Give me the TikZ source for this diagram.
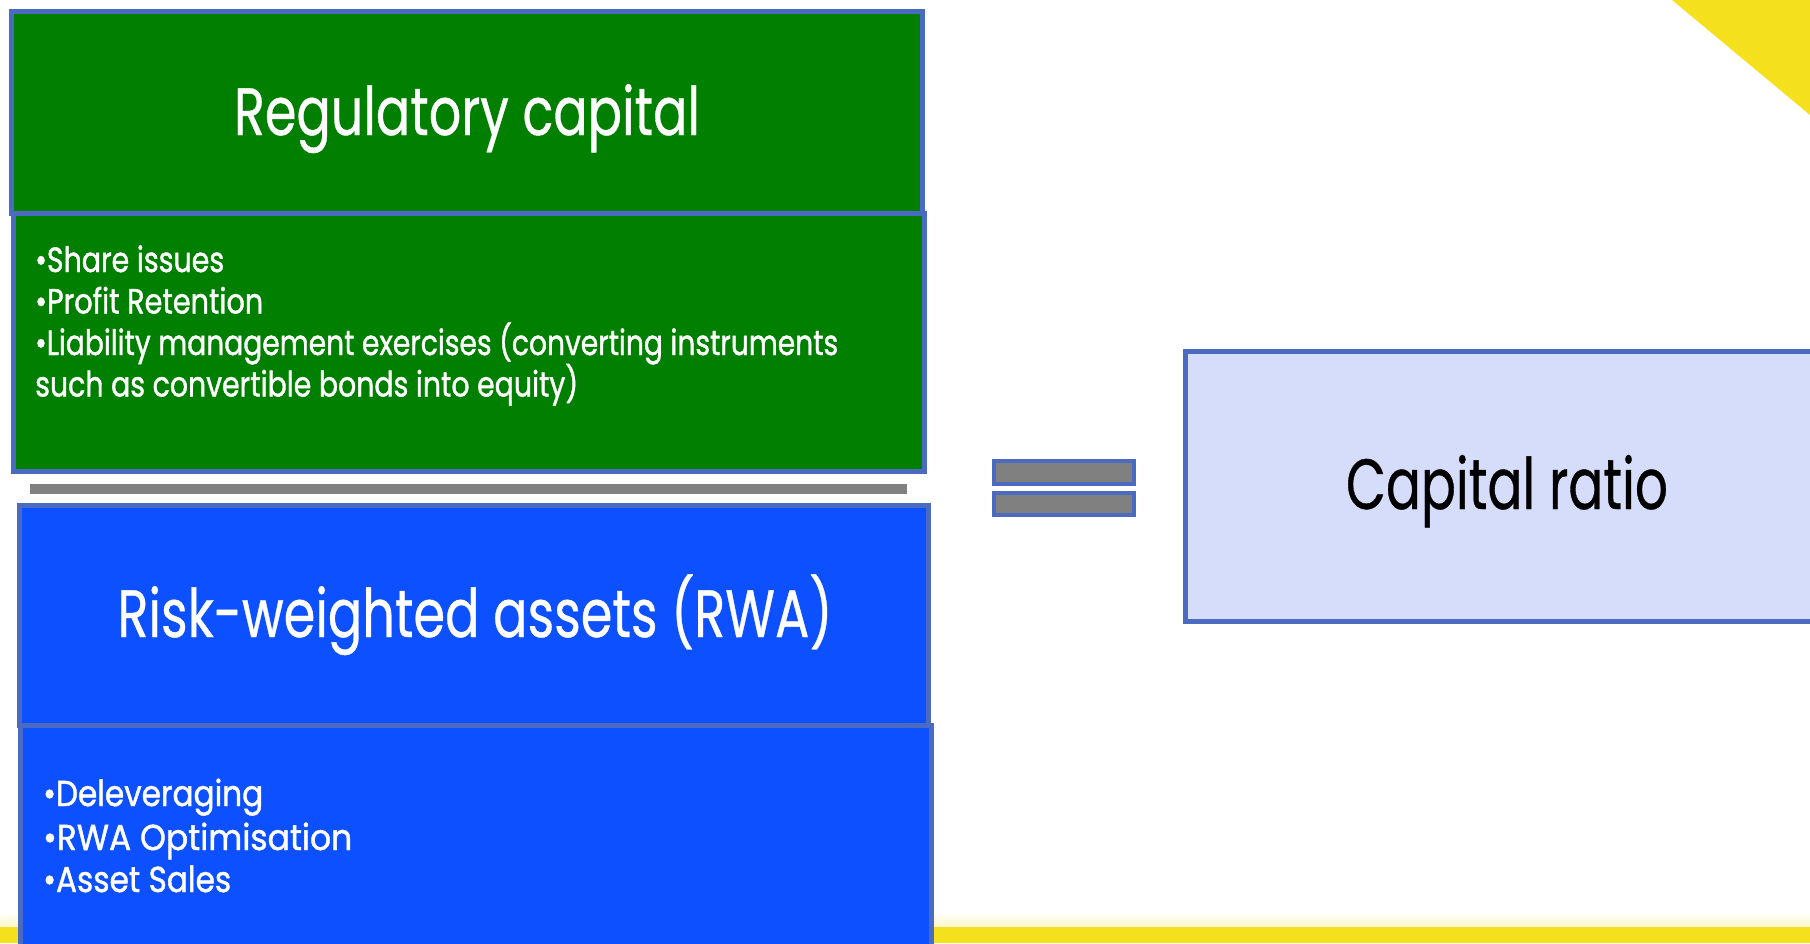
\documentclass[tikz,border=0pt]{standalone}
\usepackage{fontspec}
\setmainfont{Poppins}
\newfontfamily\titlefont{Poppins}[FakeBold=0.6]
\newfontfamily\listfont{Poppins}[FakeBold=1.3]
\usepackage{graphicx}
\definecolor{cgreen}{HTML}{007F00}
\definecolor{cblue}{HTML}{0D50FF}
\definecolor{cbord}{HTML}{4A6BC0}
\definecolor{clight}{HTML}{D5DDFB}
\definecolor{cgray}{HTML}{808080}
\definecolor{cyel}{HTML}{F5E01E}
\newcommand\fitto[2]{\resizebox{#1pt}{\height}{#2}}
\tikzset{
  panel/.style={draw=cbord, line width=5pt, inner sep=0pt, outer sep=0pt},
  eqbar/.style={draw=cbord, fill=cgray, line width=4pt, inner sep=0pt, outer sep=0pt},
  titletext/.style={anchor=base, inner sep=0pt, text=white, font=\titlefont\fontsize{67}{80}\selectfont},
  gtext/.style={anchor=base west, inner sep=0pt, text=white, font=\listfont\fontsize{35}{42}\selectfont},
  btext/.style={anchor=base west, inner sep=0pt, text=white, font=\listfont\fontsize{36}{44}\selectfont},
}
\begin{document}
\begin{tikzpicture}[x=1pt,y=-1pt]
\useasboundingbox (0,0) rectangle (1810,943);
\fill[white] (0,0) rectangle (1810,943);
% yellow decorations
\shade[top color=white, bottom color=cyel!25] (0,912) rectangle (1810,927);
\fill[cyel] (0,927) rectangle (1810,943);
\fill[cyel] (1672,0) -- (1810,0) -- (1810,115) -- cycle;
% regulatory capital
\node[panel, fill=cgreen, minimum width=911pt, minimum height=202pt] (rc) at (467,112.5) {};
\node[panel, fill=cgreen, minimum width=911pt, minimum height=257.5pt] (rcb) at (468.5,342.25) {};
\node[titletext] (rct) at (467,135) {\fitto{466}{Regulatory capital}};
\node[gtext] (g1) at (35,272) {\fitto{189}{\textbullet Share issues}};
\node[gtext] (g2) at (35,313.5) {\fitto{228}{\textbullet Profit Retention}};
\node[gtext] (g3) at (35,355) {\fitto{803}{\textbullet Liability management exercises (converting instruments}};
\node[gtext] (g4) at (35,396.5) {\fitto{543}{such as convertible bonds into equity)}};
% fraction bar
\node[fill=cgray, inner sep=0pt, minimum width=877pt, minimum height=10pt] (bar) at (468.5,489) {};
% risk-weighted assets
\node[panel, fill=cblue, minimum width=908.5pt, minimum height=219.5pt] (rwa) at (473.75,615.25) {};
\node[panel, fill=cblue, minimum width=910.5pt, minimum height=245pt] (rwab) at (475.75,847.5) {};
\node[titletext] (rwat) at (475,637) {\fitto{715}{Risk-weighted assets (RWA)}};
\node[btext] (b1) at (43,806) {\fitto{220}{\textbullet Deleveraging}};
\node[btext] (b2) at (43,850) {\fitto{309}{\textbullet RWA Optimisation}};
\node[btext] (b3) at (43,892) {\fitto{188}{\textbullet Asset Sales}};
% equals sign
\node[eqbar, minimum width=140pt, minimum height=23pt] (eq1) at (1064,472.5) {};
\node[eqbar, minimum width=140pt, minimum height=22pt] (eq2) at (1064,504) {};
% capital ratio
\node[panel, fill=clight, minimum width=644pt, minimum height=270pt] (cr) at (1507,486) {};
\node[anchor=base, inner sep=0pt, text=black, font=\titlefont\fontsize{71}{84}\selectfont] (crt) at (1507,509) {\fitto{322}{Capital ratio}};
\end{tikzpicture}
\end{document}
